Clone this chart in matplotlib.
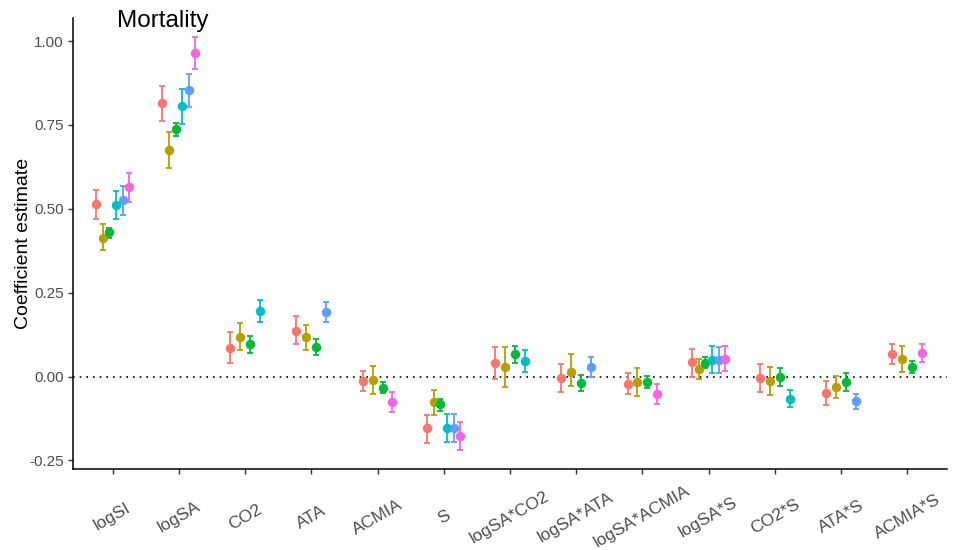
import numpy as np
import matplotlib
matplotlib.use("Agg")
import matplotlib.pyplot as plt

plt.rcParams['font.family'] = ['Liberation Sans', 'DejaVu Sans']

categories = ["logSI", "logSA", "CO2", "ATA", "ACMIA", "S", "logSA*CO2",
              "logSA*ATA", "logSA*ACMIA", "logSA*S", "CO2*S", "ATA*S", "ACMIA*S"]
series = ["Model 1", "Model 2", "Model 3", "Model 4", "Model 5", "Model 6"]
colors = ["#F8766D", "#B79F00", "#00BA38", "#00BFC4", "#619CFF", "#F564E3"]
nan = np.nan

est_1 = [0.513, 0.815, 0.086, 0.137, -0.014, -0.154, 0.040, -0.005, -0.021, 0.042, -0.005, -0.049, 0.066]
lo_1  = [0.468, 0.762, 0.040, 0.096, -0.044, -0.197, -0.006, -0.047, -0.053, 0.000, -0.046, -0.084, 0.038]
hi_1  = [0.555, 0.867, 0.132, 0.180, 0.017, -0.114, 0.087, 0.038, 0.010, 0.082, 0.037, -0.014, 0.096]

est_2 = [0.414, 0.675, 0.119, 0.117, -0.010, -0.076, 0.028, 0.013, -0.017, 0.023, -0.014, -0.031, 0.052]
lo_2  = [0.376, 0.621, 0.078, 0.078, -0.053, -0.115, -0.031, -0.029, -0.058, -0.007, -0.056, -0.065, 0.013]
hi_2  = [0.456, 0.729, 0.159, 0.154, 0.030, -0.039, 0.087, 0.067, 0.024, 0.052, 0.027, 0.001, 0.092]

est_3 = [0.430, 0.738, 0.098, 0.088, -0.033, -0.083, 0.066, -0.019, -0.016, 0.041, -0.002, -0.015, 0.028]
lo_3  = [0.414, 0.718, 0.071, 0.063, -0.050, -0.103, 0.041, -0.043, -0.034, 0.024, -0.029, -0.042, 0.010]
hi_3  = [0.444, 0.757, 0.120, 0.111, -0.016, -0.066, 0.092, 0.004, 0.002, 0.058, 0.024, 0.011, 0.045]

est_4 = [0.510, 0.806, 0.194, nan, nan, -0.153, 0.047, nan, nan, 0.050, -0.066, nan, nan]
lo_4  = [0.468, 0.754, 0.161, nan, nan, -0.195, 0.014, nan, nan, 0.010, -0.092, nan, nan]
hi_4  = [0.553, 0.857, 0.227, nan, nan, -0.111, 0.078, nan, nan, 0.090, -0.039, nan, nan]

est_5 = [0.525, 0.854, nan, 0.193, nan, -0.153, nan, 0.028, nan, 0.049, nan, -0.074, nan]
lo_5  = [0.481, 0.804, nan, 0.163, nan, -0.196, nan, 0.000, nan, 0.010, nan, -0.098, nan]
hi_5  = [0.568, 0.901, nan, 0.223, nan, -0.113, nan, 0.058, nan, 0.088, nan, -0.051, nan]

est_6 = [0.565, 0.963, nan, nan, -0.076, -0.176, nan, nan, -0.053, 0.053, nan, nan, 0.071]
lo_6  = [0.520, 0.916, nan, nan, -0.105, -0.218, nan, nan, -0.082, 0.016, nan, nan, 0.044]
hi_6  = [0.607, 1.011, nan, nan, -0.046, -0.136, nan, nan, -0.021, 0.090, nan, nan, 0.097]

yticks = [-0.25, 0.00, 0.25, 0.50, 0.75, 1.00]
ytick_labels = ["-0.25", "0.00", "0.25", "0.50", "0.75", "1.00"]

EST = np.array([est_1, est_2, est_3, est_4, est_5, est_6])
LO = np.array([lo_1, lo_2, lo_3, lo_4, lo_5, lo_6])
HI = np.array([hi_1, hi_2, hi_3, hi_4, hi_5, hi_6])

fig = plt.figure(figsize=(9.55, 5.5), dpi=100)
ax = fig.add_axes([73/955, 81/550, (947-73)/955, (469-18)/550])

ncat = len(categories)
dodge_w = 0.6
xpos = np.full(EST.shape, nan)
for c in range(ncat):
    present = [s for s in range(len(series)) if not np.isnan(EST[s, c])]
    n = len(present)
    for j, s in enumerate(present):
        xpos[s, c] = (c + 1) - dodge_w / 2 + (j + 0.5) * dodge_w / n

ax.axhline(0, color="black", linestyle=(0, (1, 3)), linewidth=1.2, zorder=1)

for s in range(len(series)):
    m = ~np.isnan(EST[s])
    x = xpos[s][m]
    y = EST[s][m]
    yerr = np.vstack([y - LO[s][m], HI[s][m] - y])
    ax.errorbar(x, y, yerr=yerr, fmt='o', color=colors[s], ecolor=colors[s],
                markersize=5.8, elinewidth=1.3, capsize=2.2, capthick=1.3,
                label=series[s], zorder=3)

ax.set_xlim(0.4, ncat + 0.6)
ax.set_ylim(-0.2757, 1.0686)
ax.set_xticks(np.arange(1, ncat + 1))
ax.set_xticklabels(categories, rotation=30, ha='center', va='center',
                   fontsize=12.5, color='#4D4D4D')
ax.set_yticks(yticks)
ax.set_yticklabels(ytick_labels, fontsize=11, color='#4D4D4D')
ax.tick_params(axis='x', length=3.5, width=1.0, color='#333333', pad=31)
ax.tick_params(axis='y', length=3.5, width=1.0, color='#333333', pad=3)
for sp in ['top', 'right']:
    ax.spines[sp].set_visible(False)
for sp in ['left', 'bottom']:
    ax.spines[sp].set_linewidth(1.1)
    ax.spines[sp].set_color('black')
ax.set_ylabel("Coefficient estimate", fontsize=14, color='black', labelpad=-2)

fig.text(117/955, 1 - 10/550, "Mortality", fontsize=17.5, color='black',
         ha='left', va='top')

fig.savefig("out.png", dpi=100)
